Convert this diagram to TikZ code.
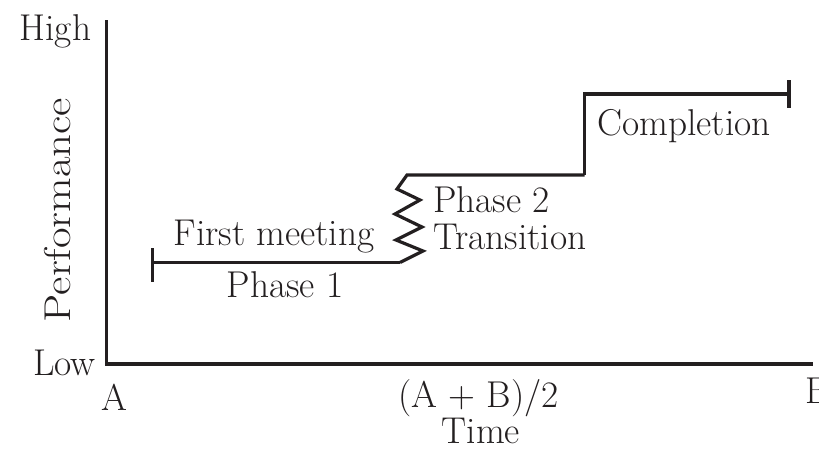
\documentclass[tikz,border=0pt]{standalone}
\usepackage{fontspec}
\usepackage{graphicx}
\definecolor{ink}{HTML}{231F20}
\begin{document}
\begin{tikzpicture}[x=0.75pt,y=-0.75pt,
  line/.style={draw=ink,line width=2.4pt},
  lbl/.style={text=ink,inner sep=0pt,font=\fontsize{28}{32}\selectfont}]
\useasboundingbox (0,0) rectangle (819,454);
% axes
\coordinate (ytop) at (106.5,20);
\coordinate (origin) at (106.5,364);
\coordinate (xend) at (812.5,364);
\draw[line,line join=miter] (ytop) -- (origin) -- (xend);
% phase 1
\coordinate (t1a) at (152.5,248);
\coordinate (t1b) at (152.5,282);
\coordinate (p1s) at (152.5,262.5);
\coordinate (p1e) at (400,262.5);
\draw[line] (t1a) -- (t1b);
\draw[line] (p1s) -- (p1e);
% zigzag transition
\coordinate (z1) at (423,251);
\coordinate (z2) at (396,240);
\coordinate (z3) at (422,227);
\coordinate (z4) at (395,214);
\coordinate (z5) at (420,200);
\coordinate (z6) at (397,189);
\coordinate (p2s) at (407,175);
\coordinate (p2e) at (584.5,175);
\draw[line,line join=miter] (p1e) -- (z1) -- (z2) -- (z3) -- (z4) -- (z5) -- (z6) -- (p2s) -- (p2e);
% completion
\coordinate (p3s) at (584.5,94);
\coordinate (p3e) at (789,94);
\coordinate (t3a) at (789,80);
\coordinate (t3b) at (789,108);
\draw[line,line join=miter] (p2e) -- (p3s) -- (p3e);
\draw[line] (t3a) -- (t3b);
% labels
\node[lbl,anchor=base] (high) at (55.5,40) {High};
\node[lbl,anchor=base] (low) at (64.5,375) {Low};
\node[lbl,anchor=base,rotate=90] (perf) at (70,210) {\scalebox{1.2}[1]{Performance}};
\node[lbl,anchor=base] (a) at (114.5,410) {A};
\node[lbl,anchor=base] (mid) at (478.5,407) {(A + B)/2};
\node[lbl,anchor=base west] (b) at (805,403) {B};
\node[lbl,anchor=base] (time) at (481,443) {Time};
\node[lbl,anchor=base] (first) at (274,245) {First meeting};
\node[lbl,anchor=base] (ph1) at (285,297) {Phase 1};
\node[lbl,anchor=base west] (ph2) at (433,212) {Phase 2};
\node[lbl,anchor=base west] (trans) at (433,249) {Transition};
\node[lbl,anchor=base] (compl) at (684,135) {Completion};
\end{tikzpicture}
\end{document}
